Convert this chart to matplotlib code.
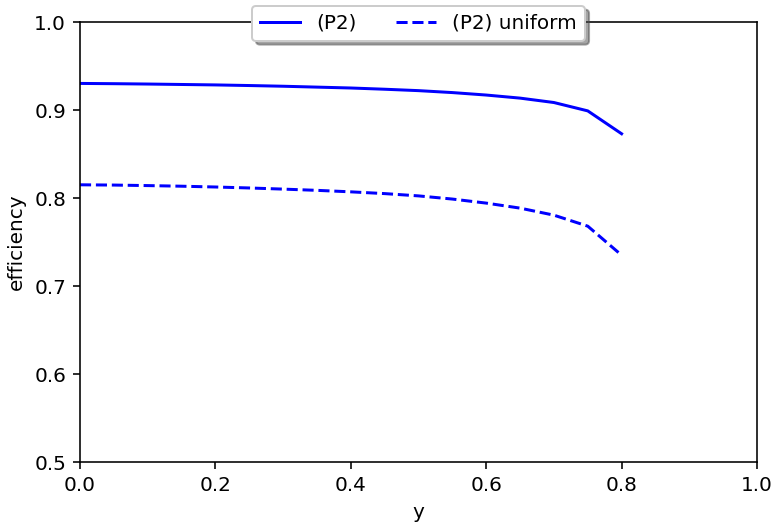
import numpy as np
import matplotlib
matplotlib.use("Agg")
import matplotlib.pyplot as plt

# values
y_vals = [0.0, 0.05, 0.1, 0.15, 0.2, 0.25, 0.3, 0.35, 0.4, 0.45, 0.5,
          0.55, 0.6, 0.65, 0.7, 0.75, 0.8]
eff_p2 = [0.9302, 0.9299, 0.9295, 0.929, 0.9285, 0.9278, 0.927, 0.926, 0.925,
          0.9236, 0.922, 0.9198, 0.917, 0.9135, 0.9085, 0.899, 0.873]
eff_p2_uniform = [0.815, 0.8147, 0.8141, 0.8134, 0.8125, 0.8114, 0.8101, 0.8087,
                  0.807, 0.805, 0.8024, 0.7988, 0.7942, 0.7885, 0.7805, 0.768, 0.735]

dpi = 144
fig = plt.figure(figsize=(773 / dpi, 525 / dpi), dpi=dpi)
ax = fig.add_axes([80 / 773, 63 / 525, 677 / 773, 440 / 525])

ax.plot(y_vals, eff_p2, color='blue', linestyle='-', label='(P2)')
ax.plot(y_vals, eff_p2_uniform, color='blue', linestyle='--', label='(P2) uniform')

ax.set_xlim(0, 1)
ax.set_ylim(0.5, 1.0)
ax.set_xticks(np.arange(0, 1.01, 0.2))
ax.set_yticks(np.arange(0.5, 1.01, 0.1))
ax.set_xlabel('y')
ax.set_ylabel('efficiency')

ax.legend(loc='upper center', bbox_to_anchor=(0.5, 1.06), ncol=2, shadow=True,
          fancybox=True, framealpha=1)

fig.savefig('out.png', dpi=dpi)
